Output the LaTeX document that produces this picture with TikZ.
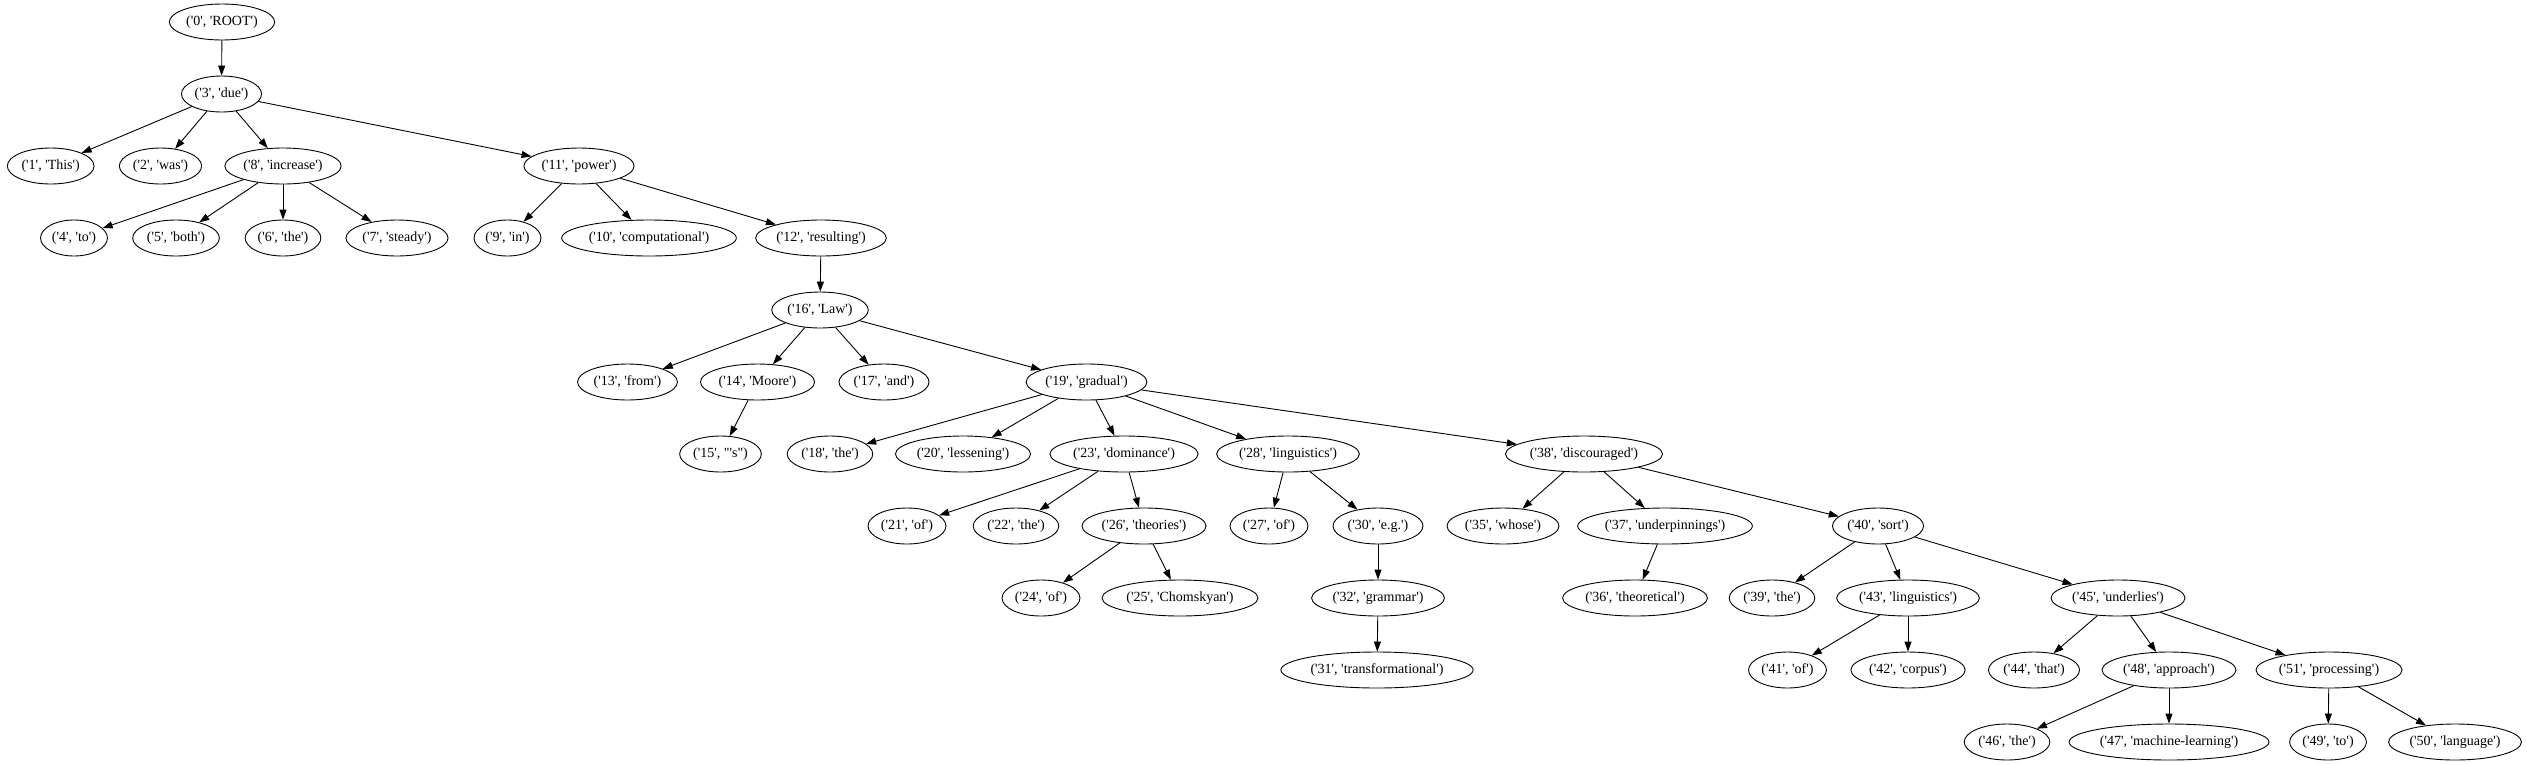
\documentclass[tikz,border=0pt]{standalone}
\usepackage{fontspec}
\setmainfont{Liberation Serif}[Ligatures=TeXOff]
\usepackage{tikz}
\usetikzlibrary{arrows.meta,shapes.geometric}

\begin{document}
\begin{tikzpicture} [x=1pt, y=1pt,
  tok/.style={draw, ellipse, line width=0.9pt, font=\fontsize{14}{16}\selectfont,
    inner xsep=1.5pt, inner ysep=1pt, minimum height=36pt},
  dep/.style={line width=0.9pt, -{Triangle[length=10pt,width=7pt]}}]
\useasboundingbox (0,0) rectangle (2527,-764);

\draw (222,-22)    node (0) [tok] {('0', 'ROOT')};

\draw (221.5,-94)  node (3) [tok] {('3', 'due')};
\draw [dep] (0) -- (3);

\draw (50.7,-166)  node (1)  [tok] {('1', 'This')};
\draw (160.5,-166) node (2)  [tok] {('2', 'was')};
\draw (283,-166)   node (8)  [tok] {('8', 'increase')};
\draw (579,-166)   node (11) [tok] {('11', 'power')};
\draw [dep] (3) -- (1);
\draw [dep] (3) -- (2);
\draw [dep] (3) -- (8);
\draw [dep] (3) -- (11);

\draw (74,-238)    node (4)  [tok] {('4', 'to')};
\draw (176,-238)   node (5)  [tok] {('5', 'both')};
\draw (283,-238)   node (6)  [tok] {('6', 'the')};
\draw (397,-238)   node (7)  [tok] {('7', 'steady')};
\draw (507.5,-238) node (9)  [tok] {('9', 'in')};
\draw (649,-238)   node (10) [tok] {('10', 'computational')};
\draw (821,-238)   node (12) [tok] {('12', 'resulting')};
\draw [dep] (8) -- (4);
\draw [dep] (8) -- (5);
\draw [dep] (8) -- (6);
\draw [dep] (8) -- (7);
\draw [dep] (11) -- (9);
\draw [dep] (11) -- (10);
\draw [dep] (11) -- (12);

\draw (820,-310)   node (16) [tok] {('16', 'Law')};
\draw [dep] (12) -- (16);

\draw (627.5,-382) node (13) [tok] {('13', 'from')};
\draw (757.5,-382) node (14) [tok] {('14', 'Moore')};
\draw (884,-382)   node (17) [tok] {('17', 'and')};
\draw (1086.5,-382) node (19) [tok] {('19', 'gradual')};
\draw [dep] (16) -- (13);
\draw [dep] (16) -- (14);
\draw [dep] (16) -- (17);
\draw [dep] (16) -- (19);

\draw (720.5,-454) node (15) [tok] {('15', "'s")};
\draw (830,-454)   node (18) [tok] {('18', 'the')};
\draw (963,-454)   node (20) [tok] {('20', 'lessening')};
\draw (1124,-454)  node (23) [tok] {('23', 'dominance')};
\draw (1288,-454)  node (28) [tok] {('28', 'linguistics')};
\draw (1584,-454)  node (38) [tok] {('38', 'discouraged')};
\draw [dep] (14) -- (15);
\draw [dep] (19) -- (18);
\draw [dep] (19) -- (20);
\draw [dep] (19) -- (23);
\draw [dep] (19) -- (28);
\draw [dep] (19) -- (38);

\draw (907,-526)   node (21) [tok] {('21', 'of')};
\draw (1016,-526)  node (22) [tok] {('22', 'the')};
\draw (1144,-526)  node (26) [tok] {('26', 'theories')};
\draw (1269,-526)  node (27) [tok] {('27', 'of')};
\draw (1378,-526)  node (30) [tok] {('30', 'e.g.')};
\draw (1503,-526)  node (35) [tok] {('35', 'whose')};
\draw (1665,-526)  node (37) [tok] {('37', 'underpinnings')};
\draw (1878,-526)  node (40) [tok] {('40', 'sort')};
\draw [dep] (23) -- (21);
\draw [dep] (23) -- (22);
\draw [dep] (23) -- (26);
\draw [dep] (28) -- (27);
\draw [dep] (28) -- (30);
\draw [dep] (38) -- (35);
\draw [dep] (38) -- (37);
\draw [dep] (38) -- (40);

\draw (1041,-598)  node (24) [tok] {('24', 'of')};
\draw (1180,-598)  node (25) [tok] {('25', 'Chomskyan')};
\draw (1378,-598)  node (32) [tok] {('32', 'grammar')};
\draw (1635,-598)  node (36) [tok] {('36', 'theoretical')};
\draw (1772,-598)  node (39) [tok] {('39', 'the')};
\draw (1908,-598)  node (43) [tok] {('43', 'linguistics')};
\draw (2118,-598)  node (45) [tok] {('45', 'underlies')};
\draw [dep] (26) -- (24);
\draw [dep] (26) -- (25);
\draw [dep] (30) -- (32);
\draw [dep] (37) -- (36);
\draw [dep] (40) -- (39);
\draw [dep] (40) -- (43);
\draw [dep] (40) -- (45);

\draw (1377,-670)  node (31) [tok] {('31', 'transformational')};
\draw (1787.5,-670) node (41) [tok] {('41', 'of')};
\draw (1908,-670)  node (42) [tok] {('42', 'corpus')};
\draw (2034,-670)  node (44) [tok] {('44', 'that')};
\draw (2169,-670)  node (48) [tok] {('48', 'approach')};
\draw (2329,-670)  node (51) [tok] {('51', 'processing')};
\draw [dep] (32) -- (31);
\draw [dep] (43) -- (41);
\draw [dep] (43) -- (42);
\draw [dep] (45) -- (44);
\draw [dep] (45) -- (48);
\draw [dep] (45) -- (51);

\draw (2007,-742)  node (46) [tok] {('46', 'the')};
\draw (2169,-742)  node (47) [tok] {('47', 'machine-learning')};
\draw (2328,-742)  node (49) [tok] {('49', 'to')};
\draw (2455,-742)  node (50) [tok] {('50', 'language')};
\draw [dep] (48) -- (46);
\draw [dep] (48) -- (47);
\draw [dep] (51) -- (49);
\draw [dep] (51) -- (50);
\end{tikzpicture}
\end{document}
